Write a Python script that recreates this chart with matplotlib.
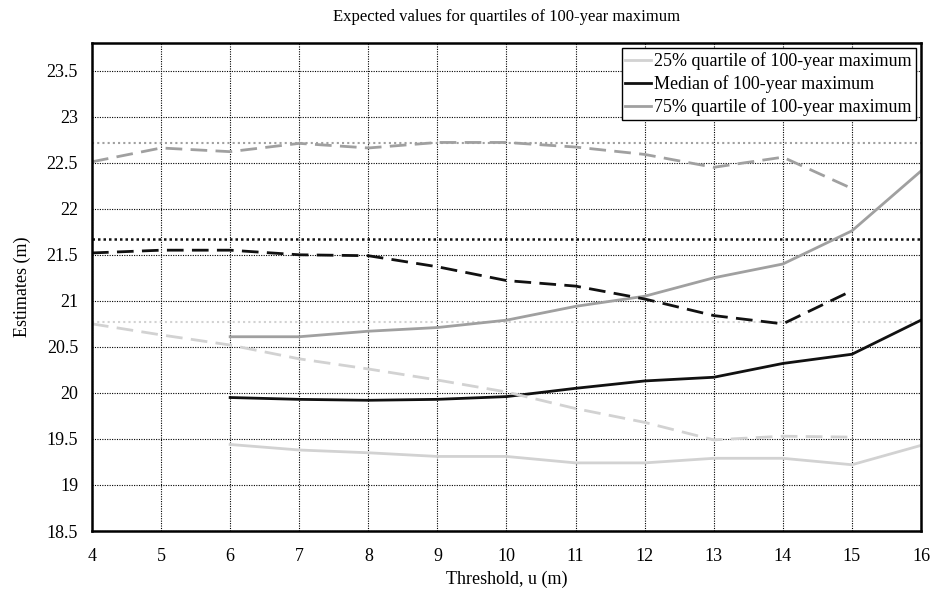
import numpy as np
import matplotlib
matplotlib.use("Agg")
import matplotlib.pyplot as plt

plt.rcParams['font.family'] = ['Liberation Serif', 'DejaVu Serif']

# thresholds
u_all = [4, 5, 6, 7, 8, 9, 10, 11, 12, 13, 14, 15, 16]
u_dash = [4, 5, 6, 7, 8, 9, 10, 11, 12, 13, 14, 15]
u_solid = [6, 7, 8, 9, 10, 11, 12, 13, 14, 15, 16]

# 25% quartile
q25_solid = [19.44, 19.38, 19.35, 19.31, 19.31, 19.24, 19.24, 19.29, 19.29, 19.22, 19.43]
q25_dash = [20.75, 20.63, 20.52, 20.37, 20.26, 20.14, 20.01, 19.83, 19.68, 19.49, 19.53, 19.52]
q25_ref = 20.77

# median
med_solid = [19.95, 19.93, 19.92, 19.93, 19.96, 20.05, 20.13, 20.17, 20.32, 20.42, 20.79]
med_dash = [21.52, 21.55, 21.55, 21.50, 21.49, 21.37, 21.22, 21.16, 21.02, 20.84, 20.75, 21.11]
med_ref = 21.67

# 75% quartile
q75_solid = [20.61, 20.61, 20.67, 20.71, 20.79, 20.94, 21.05, 21.25, 21.40, 21.76, 22.41]
q75_dash = [22.51, 22.66, 22.62, 22.71, 22.66, 22.72, 22.72, 22.67, 22.59, 22.45, 22.56, 22.22]
q75_ref = 22.71

c25 = '#d2d2d2'
cmed = '#111111'
c75 = '#a0a0a0'

fig = plt.figure(figsize=(9.32, 5.94), dpi=100)
ax = fig.add_axes([0.0987, 0.106, 0.8895, 0.8216])

ax.grid(True, color='black', linestyle=(0, (1, 1.2)), linewidth=0.8)
ax.set_axisbelow(True)

# reference levels
ax.axhline(q75_ref, color=c75, linestyle=(0, (1, 1.5)), linewidth=1.5)
ax.axhline(med_ref, color=cmed, linestyle=(0, (1, 1.2)), linewidth=1.8)
ax.axhline(q25_ref, color=c25, linestyle=(0, (1, 1.5)), linewidth=1.5)

ax.plot(u_solid, q25_solid, color=c25, lw=2, label='25% quartile of 100-year maximum')
ax.plot(u_solid, med_solid, color=cmed, lw=2, label='Median of 100-year maximum')
ax.plot(u_solid, q75_solid, color=c75, lw=2, label='75% quartile of 100-year maximum')

ax.plot(u_dash, q25_dash, color=c25, lw=2, linestyle=(0, (6, 3)))
ax.plot(u_dash, med_dash, color=cmed, lw=2, linestyle=(0, (6, 3)))
ax.plot(u_dash, q75_dash, color=c75, lw=2, linestyle=(0, (6, 3)))

ax.set_xlim(4, 16)
ax.set_ylim(18.5, 23.8)
ax.set_xticks(u_all)
ax.set_yticks(np.arange(18.5, 23.51, 0.5))
ax.set_yticklabels(['18.5', '19', '19.5', '20', '20.5', '21', '21.5', '22', '22.5', '23', '23.5'])
ax.tick_params(labelsize=13, length=0)
ax.tick_params(axis='x', pad=12)
ax.tick_params(axis='y', pad=10)
for s in ax.spines.values():
    s.set_linewidth(1.8)

ax.set_xlabel('Threshold, u (m)', fontsize=13, labelpad=4)
ax.set_ylabel('Estimates (m)', fontsize=13, labelpad=11)
ax.set_title('Expected values for quartiles of 100-year maximum', fontsize=12, pad=16)

leg = ax.legend(loc='upper right', fontsize=13, fancybox=False, framealpha=1,
                edgecolor='black', borderpad=0.2, labelspacing=0.3,
                handlelength=1.4, handletextpad=0.2, borderaxespad=0.3)
leg.get_frame().set_linewidth(1.0)

plt.savefig('out.png', dpi=100)
